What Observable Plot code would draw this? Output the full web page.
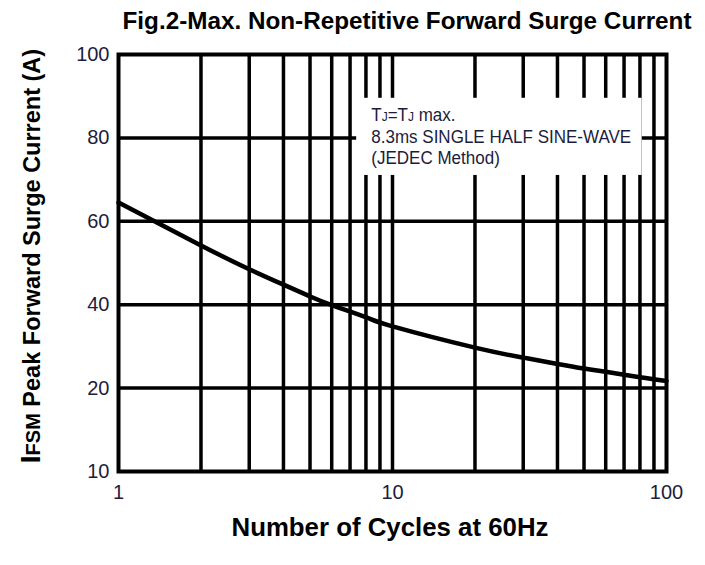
<!DOCTYPE html>
<html><head><meta charset="utf-8">
<script src="https://cdn.jsdelivr.net/npm/d3@7"></script>
<script src="https://cdn.jsdelivr.net/npm/@observablehq/plot@0.6"></script>
<style>body{margin:0;background:#fff} svg{display:block}</style>
</head><body><div id="chart"></div>
<script>
// ---- data ----
const cycles  = [1, 2, 3, 4, 5, 6, 8, 10, 20, 30, 40, 50, 60, 80, 100];
const current = [64.5, 54.2, 48.5, 44.8, 42, 39.9, 37, 34.8, 29.7, 27.3, 25.8, 24.7, 23.9, 22.6, 21.7];
const xGrid = [2, 3, 4, 5, 6, 7, 8, 9, 10, 20, 30, 40, 50, 60, 70, 80, 90];
const yGrid = [20, 40, 60, 80];
const xTicks = [1, 10, 100];
const yTicks = [10, 20, 40, 60, 80, 100];
const yBreaks = [10, 20, 100];
const titleText = "Fig.2-Max. Non-Repetitive Forward Surge Current";
const xLabel = "Number of Cycles at 60Hz";
const yLabelParts = ["I", "FSM", " Peak Forward Surge Current (A)"];
const noteLine2 = "8.3ms SINGLE HALF SINE-WAVE";
const noteLine3 = "(JEDEC Method)";
const noteBox = [{x1: 7.4, x2: 81.5, y1: 71, y2: 89.5}];
const noteAnchor = {x: 8.4, y: 84.0};

// ---- layout ----
const W = 705, H = 565, mL = 118, mR = 39, mT = 54, mB = 94;
const yBottom = H - mB, yTop = mT, step = (yBottom - yTop) / 5;
const data = cycles.map((c, i) => ({c, a: current[i]}));
const FONT = "'Liberation Sans', Arial, sans-serif";

const plot = Plot.plot({
  width: W, height: H,
  marginLeft: mL, marginRight: mR, marginTop: mT, marginBottom: mB,
  style: {fontFamily: FONT, fontSize: "20px", color: "#1c1c3c", background: "#fff"},
  x: {type: "log", domain: [1, 100], axis: null},
  y: {type: "linear", domain: yBreaks, range: [yBottom, yBottom - step, yTop], axis: null},
  marks: [
    Plot.ruleX(xGrid, {stroke: "#000", strokeWidth: 3.5}),
    Plot.ruleY(yGrid, {stroke: "#000", strokeWidth: 3.5}),
    Plot.rect(noteBox, {x1: "x1", x2: "x2", y1: "y1", y2: "y2", fill: "#fff"}),
    Plot.line(data, {x: "c", y: "a", curve: "natural", stroke: "#000", strokeWidth: 4.5}),
    Plot.frame({stroke: "#000", strokeWidth: 4}),
    Plot.axisX(xTicks, {tickSize: 0, tickPadding: 13, tickFormat: d => String(d), label: null, fontSize: 20}),
    Plot.axisY(yTicks, {tickSize: 0, tickPadding: 9, tickFormat: d => String(d), label: null, fontSize: 20})
  ]
});

document.getElementById("chart").appendChild(plot);
const svg = d3.select(plot);
const sx = plot.scale("x"), sy = plot.scale("y");

// title
svg.append("text")
  .attr("x", 407).attr("y", 29)
  .attr("text-anchor", "middle")
  .attr("font-family", FONT)
  .attr("font-weight", "bold").attr("font-size", 24.5).attr("fill", "#000")
  .attr("textLength", 569).attr("lengthAdjust", "spacingAndGlyphs")
  .text(titleText);

// x label
svg.append("text")
  .attr("x", 390).attr("y", 536)
  .attr("text-anchor", "middle")
  .attr("font-family", FONT)
  .attr("font-weight", "bold").attr("font-size", 25).attr("fill", "#000")
  .attr("textLength", 317).attr("lengthAdjust", "spacingAndGlyphs")
  .text(xLabel);

// y label
const yl = svg.append("text")
  .attr("transform", "translate(40,256) rotate(-90)")
  .attr("text-anchor", "middle")
  .attr("font-family", FONT)
  .attr("font-weight", "bold").attr("fill", "#000");
yl.append("tspan").attr("font-size", 28).text(yLabelParts[0]);
yl.append("tspan").attr("font-size", 20).text(yLabelParts[1]);
yl.append("tspan").attr("font-size", 23.5).text(yLabelParts[2]);

// annotation (slightly condensed, like the reference)
const ax = sx.apply(noteAnchor.x), ay = sy.apply(noteAnchor.y);
const g = svg.append("g").attr("transform", `translate(${ax},${ay}) scale(0.92,1)`);
const note = g.append("text")
  .attr("text-anchor", "start")
  .attr("font-family", FONT)
  .attr("font-size", 18.5).attr("fill", "#1c1c3c");
const l1 = note.append("tspan").attr("x", 0).attr("y", 0);
l1.append("tspan").text("T");
l1.append("tspan").attr("font-size", 13).text("J");
l1.append("tspan").text("=T");
l1.append("tspan").attr("font-size", 13).text("J");
l1.append("tspan").text(" max.");
note.append("tspan").attr("x", 0).attr("y", 22).text(noteLine2);
note.append("tspan").attr("x", 0).attr("y", 43).text(noteLine3);
</script>
</body></html>
